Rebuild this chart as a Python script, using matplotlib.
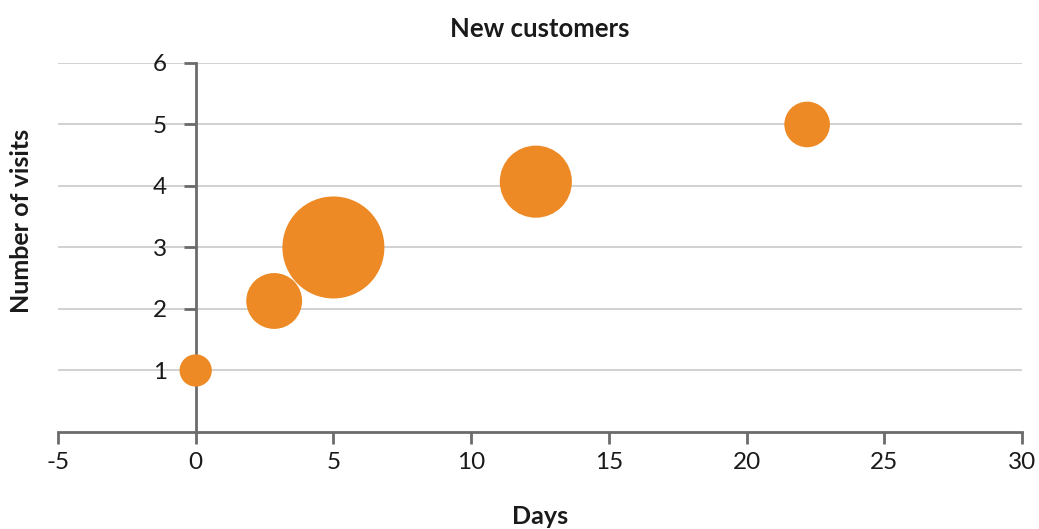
import numpy as np
import matplotlib.pyplot as plt

plt.rcParams['font.family'] = ['Lato', 'DejaVu Sans']

# bubble data: days since first visit, number of visits, bubble weight
days = [0, 2.85, 5, 12.35, 22.2]
visits = [1, 2.13, 3, 4.07, 5]
weights = [1, 3, 10, 5, 2]

x_ticks = [-5, 0, 5, 10, 15, 20, 25, 30]
y_ticks = [1, 2, 3, 4, 5, 6]

ORANGE = '#EE8A25'
AXIS = '#6b6b6b'
GRID = '#c9c9c9'
TEXT = '#1a1a1a'

fig = plt.figure(figsize=(10.39, 5.29), dpi=100)
ax = fig.add_axes([0.0558, 0.1834, 0.9278, 0.6976])

# area-proportional bubbles, largest about 102 px across
scale = (2 * 51 * 0.72) ** 2 / max(weights)
ax.scatter(days, visits, s=np.array(weights) * scale, color=ORANGE,
           edgecolors='none', zorder=3)

ax.set_xlim(-5, 30)
ax.set_ylim(0, 6)
ax.set_xticks(x_ticks)
ax.set_yticks(y_ticks)
ax.set_xticklabels([str(t) for t in x_ticks])

ax.yaxis.grid(True, color=GRID, linewidth=1.2)
ax.set_axisbelow(True)

for s in ['top', 'right']:
    ax.spines[s].set_visible(False)
ax.spines['left'].set_position(('data', 0))
ax.spines['left'].set_color(AXIS)
ax.spines['bottom'].set_color(AXIS)
ax.spines['left'].set_linewidth(2)
ax.spines['bottom'].set_linewidth(2)
ax.spines['left'].set_zorder(2)

ax.tick_params(axis='both', direction='out', length=8.5, width=2,
               color=AXIS, labelsize=17.5, labelcolor=TEXT)
ax.tick_params(axis='y', pad=12)
ax.tick_params(axis='x', pad=6)

ax.set_title('New customers', fontsize=18.5, fontweight='bold', color=TEXT,
             pad=19)
fig.text(0.5195, 1 - 517 / 529, 'Days', fontsize=18, fontweight='bold',
         color=TEXT, ha='center', va='center')
fig.text(0.021, 1 - 221 / 529, 'Number of visits', rotation=90, fontsize=18,
         fontweight='bold', color=TEXT, ha='center', va='center')

fig.savefig('out.png', dpi=100)
